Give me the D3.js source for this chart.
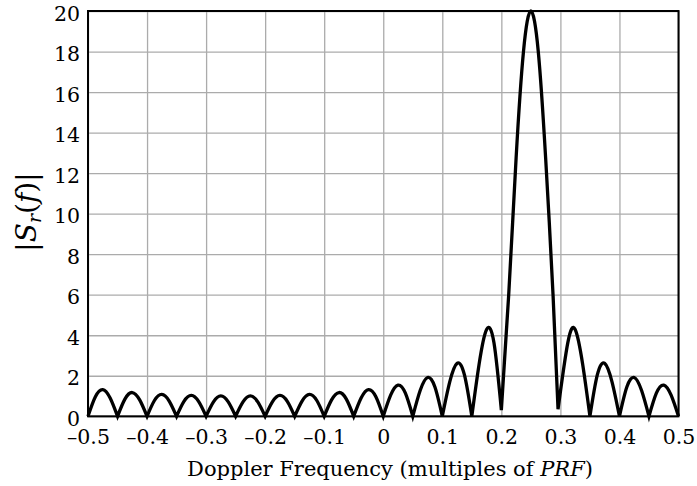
<!DOCTYPE html>
<html>
<head>
<meta charset="utf-8">
<script src="https://cdn.jsdelivr.net/npm/d3@7"></script>
<style>
  body { margin: 0; background: #fff; }
  svg { display: block; }
  text { font-family: "DejaVu Serif", serif; fill: #000; }
</style>
</head>
<body>
<svg id="chart" width="697" height="486"></svg>
<script>
// Doppler spectrum magnitude |S_r(f)|, sampled across one PRF interval
const freqs = [
  -0.5, -0.4875, -0.475, -0.4625, -0.45, -0.4375, -0.425, -0.4125,
  -0.4, -0.3875, -0.375, -0.3625, -0.35, -0.3375, -0.325, -0.3125,
  -0.3, -0.2875, -0.275, -0.2625, -0.25, -0.2375, -0.225, -0.2125,
  -0.2, -0.1875, -0.175, -0.1625, -0.15, -0.1375, -0.125, -0.1125,
  -0.1, -0.0875, -0.075, -0.0625, -0.05, -0.0375, -0.025, -0.0125,
  0, 0.0125, 0.025, 0.0375, 0.05, 0.0625, 0.075, 0.0875,
  0.1, 0.1125, 0.125, 0.1375, 0.15, 0.1625, 0.175, 0.1875,
  0.2, 0.2125, 0.225, 0.2375, 0.25, 0.2625, 0.275, 0.2875,
  0.296, 0.3125, 0.325, 0.3375, 0.35, 0.3625, 0.375, 0.3875,
  0.4, 0.4125, 0.425, 0.4375, 0.45, 0.4625, 0.475, 0.4875, 0.5
];
const magnitude = [
  0, 0.963, 1.315, 0.900, 0, 0.850, 1.173, 0.810,
  0, 0.779, 1.082, 0.754, 0, 0.735, 1.028, 0.721,
  0, 0.712, 1.003, 0.708, 0, 0.708, 1.003, 0.712,
  0, 0.721, 1.028, 0.735, 0, 0.754, 1.082, 0.779,
  0, 0.810, 1.173, 0.850, 0, 0.900, 1.315, 0.963,
  0, 1.042, 1.540, 1.142, 0, 1.273, 1.914, 1.447,
  0, 1.689, 2.613, 2.043, 0, 2.605, 4.284, 3.625,
  0.3, 6.016, 12.745, 18.01, 20, 18.01, 12.745, 6.016,
  0.35, 3.625, 4.284, 2.605, 0, 2.043, 2.613, 1.689,
  0, 1.447, 1.914, 1.273, 0, 1.142, 1.540, 1.042, 0
];
const xTickValues = [-0.5, -0.4, -0.3, -0.2, -0.1, 0, 0.1, 0.2, 0.3, 0.4, 0.5];
const yTickValues = [0, 2, 4, 6, 8, 10, 12, 14, 16, 18, 20];

const svg = d3.select("#chart");
const x = d3.scaleLinear().domain([-0.5, 0.5]).range([88, 678.5]);
const y = d3.scaleLinear().domain([0, 20]).range([416.3, 11]);

const fmt = v => (v < 0 ? "\u2013" : "") + d3.format("")(Math.abs(v));

// grid
svg.append("g")
  .attr("transform", `translate(0,${y(0)})`)
  .call(d3.axisBottom(x).tickValues(xTickValues).tickSize(-(y(0) - y(20))).tickFormat(""))
  .call(g => g.select(".domain").remove())
  .call(g => g.selectAll("line").attr("stroke", "#ababab").attr("stroke-width", 1.3));
svg.append("g")
  .attr("transform", `translate(${x(-0.5)},0)`)
  .call(d3.axisLeft(y).tickValues(yTickValues).tickSize(-(x(0.5) - x(-0.5))).tickFormat(""))
  .call(g => g.select(".domain").remove())
  .call(g => g.selectAll("line").attr("stroke", "#ababab").attr("stroke-width", 1.3));

// tick labels
svg.append("g")
  .attr("transform", `translate(0,${y(0)})`)
  .call(d3.axisBottom(x).tickValues(xTickValues).tickSize(0).tickFormat(fmt))
  .call(g => g.select(".domain").remove())
  .call(g => g.selectAll("text")
    .attr("y", 28).attr("dy", 0)
    .style("font-family", "'DejaVu Serif', serif").style("font-size", "20.5px").attr("fill", "#000"));
svg.append("g")
  .attr("transform", `translate(${x(-0.5)},0)`)
  .call(d3.axisLeft(y).tickValues(yTickValues).tickSize(0).tickFormat(fmt))
  .call(g => g.select(".domain").remove())
  .call(g => g.selectAll("text")
    .attr("x", -8).attr("dy", 9)
    .style("font-family", "'DejaVu Serif', serif").style("font-size", "20.5px").attr("fill", "#000"));

// spectrum curve: each lobe between nulls is a smooth spline, joined at the nulls
const pts = freqs.map((f, i) => [f, magnitude[i]]);
const cuts = [0];
for (let i = 1; i < pts.length - 1; i++) {
  if (pts[i][1] <= pts[i - 1][1] && pts[i][1] <= pts[i + 1][1]) cuts.push(i);
}
cuts.push(pts.length - 1);
const lobe = d3.line().x(d => x(d[0])).y(d => y(d[1])).curve(d3.curveNatural);
let pathD = "";
for (let k = 0; k < cuts.length - 1; k++) {
  const s = lobe(pts.slice(cuts[k], cuts[k + 1] + 1));
  pathD += k === 0 ? s : s.replace(/^M[^A-Za-z]*/, "");
}
svg.append("path")
  .attr("d", pathD)
  .attr("fill", "none")
  .attr("stroke", "#000")
  .attr("stroke-width", 3.3)
  .attr("stroke-linejoin", "miter");

// frame
svg.append("rect")
  .attr("x", x(-0.5)).attr("y", y(20))
  .attr("width", x(0.5) - x(-0.5)).attr("height", y(0) - y(20))
  .attr("fill", "none").attr("stroke", "#000").attr("stroke-width", 2);

// axis titles
const xt = svg.append("text")
  .attr("x", 390).attr("y", 476)
  .attr("text-anchor", "middle")
  .style("font-size", "21px");
xt.append("tspan").text("Doppler Frequency (multiples of ");
xt.append("tspan").style("font-style", "italic").text("PRF");
xt.append("tspan").text(")");

const yt = svg.append("text")
  .attr("transform", "translate(36,212) rotate(-90)")
  .attr("text-anchor", "middle")
  .style("font-size", "28px");
yt.append("tspan").text("|");
yt.append("tspan").style("font-style", "italic").text("S");
yt.append("tspan").style("font-style", "italic").style("font-size", "19px").attr("dy", 5).text("r");
yt.append("tspan").attr("dy", -5).text("(");
yt.append("tspan").style("font-style", "italic").text("f");
yt.append("tspan").text(")|");
</script>
</body>
</html>
